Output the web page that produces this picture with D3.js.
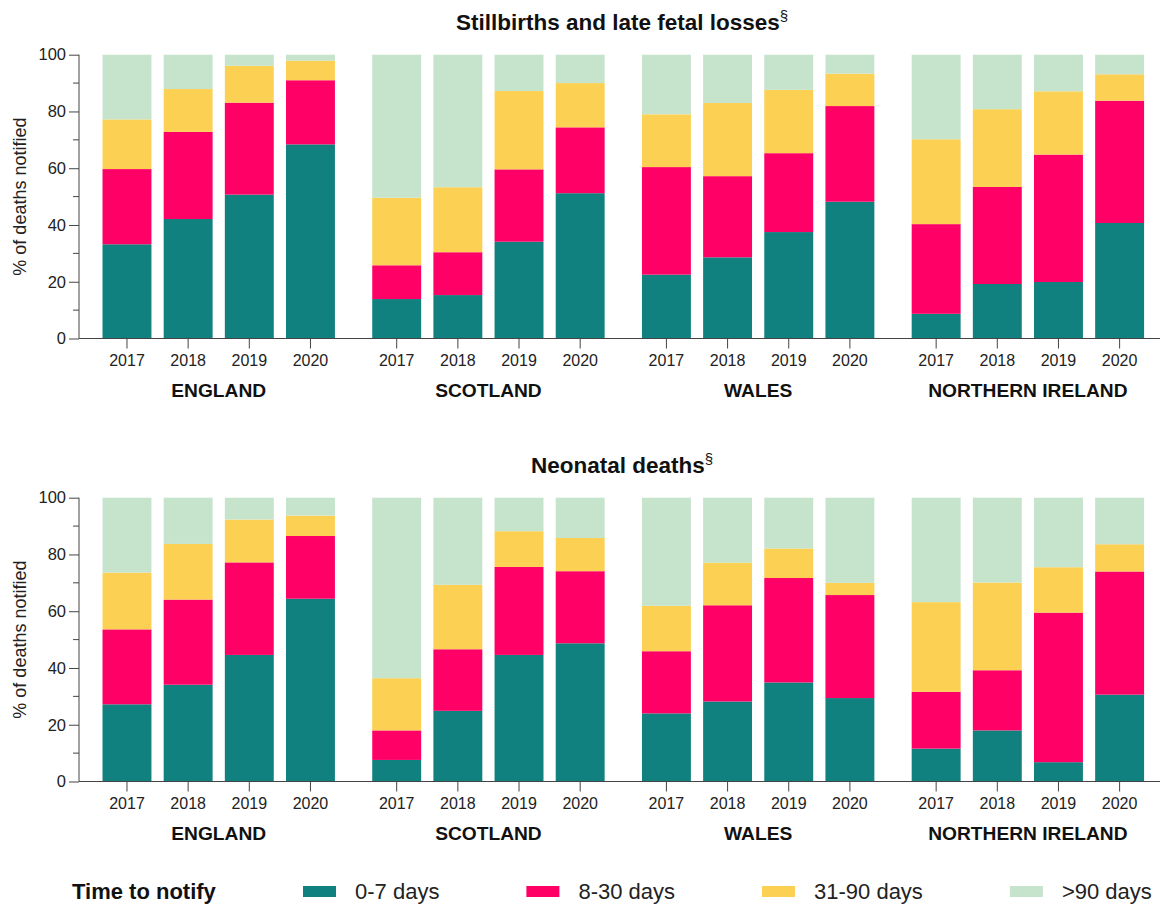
<!DOCTYPE html>
<html>
<head>
<meta charset="utf-8">
<script src="https://cdn.jsdelivr.net/npm/d3@7"></script>
<style>
  body { margin: 0; background: #fff; }
  svg { display: block; font-family: "Liberation Sans", Arial, Helvetica, sans-serif; }
</style>
</head>
<body>
<svg id="chart" width="1165" height="905"></svg>
<script>
// ---- Data ----
const countries = ["ENGLAND", "SCOTLAND", "WALES", "NORTHERN IRELAND"];
const years = ["2017", "2018", "2019", "2020"];
const seriesNames = ["0-7 days", "8-30 days", "31-90 days", ">90 days"];
const seriesColors = ["#10817e", "#ff0066", "#fcd153", "#c6e3cc"];
const yTicks = [0, 20, 40, 60, 80, 100];
const panelTitles = ["Stillbirths and late fetal losses", "Neonatal deaths"];
const legendTitle = "Time to notify";
const yAxisLabel = "% of deaths notified";

// Stillbirths and late fetal losses (order: England 2017-2020, Scotland, Wales, Northern Ireland)
const still_0_7   = [33.2, 42.1, 50.7, 68.4,  13.9, 15.3, 34.1, 51.2,  22.5, 28.6, 37.5, 48.2,   8.7, 19.2, 19.9, 40.7];
const still_8_30  = [26.5, 30.7, 32.4, 22.6,  11.9, 15.1, 25.5, 23.2,  37.9, 28.6, 27.8, 33.7,  31.6, 34.2, 44.9, 43.1];
const still_31_90 = [17.5, 15.1, 13.0,  6.9,  23.8, 22.9, 27.6, 15.6,  18.6, 25.8, 22.3, 11.4,  29.9, 27.4, 22.3,  9.3];
const still_90    = [22.8, 12.1,  3.9,  2.1,  50.4, 46.7, 12.8, 10.0,  21.0, 17.0, 12.4,  6.7,  29.8, 19.2, 12.9,  6.9];

// Neonatal deaths
const neo_0_7   = [27.2, 34.1, 44.6, 64.4,   7.6, 24.9, 44.6, 48.7,  24.0, 28.2, 34.9, 29.4,  11.6, 18.0,  6.8, 30.6];
const neo_8_30  = [26.4, 30.0, 32.6, 22.1,  10.4, 21.7, 31.0, 25.4,  21.9, 33.9, 36.8, 36.3,  20.0, 21.2, 52.7, 43.4];
const neo_31_90 = [20.0, 19.6, 15.1,  7.2,  18.4, 22.7, 12.6, 11.7,  16.0, 15.0, 10.4,  4.3,  31.6, 30.9, 16.0,  9.6];
const neo_90    = [26.4, 16.3,  7.7,  6.3,  63.6, 30.7, 11.8, 14.2,  38.1, 22.9, 17.9, 30.0,  36.8, 29.9, 24.5, 16.4];

// ---- Build rows ----
function buildRows(s0, s1, s2, s3) {
  const rows = [];
  countries.forEach((c, ci) => {
    years.forEach((y, yi) => {
      const i = ci * years.length + yi;
      rows.push({ country: c, year: y, [seriesNames[0]]: s0[i], [seriesNames[1]]: s1[i], [seriesNames[2]]: s2[i], [seriesNames[3]]: s3[i] });
    });
  });
  return rows;
}
const panels = [
  { title: panelTitles[0], rows: buildRows(still_0_7, still_8_30, still_31_90, still_90), top: 0 },
  { title: panelTitles[1], rows: buildRows(neo_0_7, neo_8_30, neo_31_90, neo_90), top: 443 }
];

const svg = d3.select("#chart");
const color = d3.scaleOrdinal().domain(seriesNames).range(seriesColors);

const x0 = d3.scaleBand().domain(countries).range([96.4, 1150.2]).paddingInner(0.093).paddingOuter(0);
const x1 = d3.scaleBand().domain(years).range([0, x0.bandwidth()]).paddingInner(0.2).paddingOuter(0.1);
const axisColor = "#444";
const axisLeftX = 79;

panels.forEach(p => {
  const g = svg.append("g").attr("transform", `translate(0,${p.top})`);
  const y = d3.scaleLinear().domain([0, 100]).range([338.5, 54.7]);

  // title
  const t = g.append("text")
    .attr("x", 622).attr("y", 30)
    .attr("text-anchor", "middle")
    .attr("font-size", 22.5).attr("font-weight", "bold").attr("fill", "#111");
  t.append("tspan").text(p.title);
  t.append("tspan").text("§").attr("font-size", 15).attr("font-weight", "normal").attr("dy", -9);

  // bars
  const stacked = d3.stack().keys(seriesNames)(p.rows);
  g.append("g").selectAll("g").data(stacked).join("g")
    .attr("fill", d => color(d.key))
    .selectAll("rect").data(d => d).join("rect")
    .attr("x", d => x0(d.data.country) + x1(d.data.year))
    .attr("width", x1.bandwidth())
    .attr("y", d => y(d[1]))
    .attr("height", d => y(d[0]) - y(d[1]));

  // y axis
  const yAxis = g.append("g").attr("transform", `translate(${axisLeftX},0)`)
    .call(d3.axisLeft(y).tickValues(yTicks).tickSize(10).tickPadding(3).tickFormat(d3.format("d")));
  yAxis.select(".domain").attr("stroke", axisColor).attr("d", `M0,${y(100)}V${y(0)}`);
  yAxis.selectAll(".tick line").attr("stroke", axisColor);
  yAxis.selectAll(".tick text").attr("font-size", 16.5).attr("fill", "#222").attr("font-family", "Liberation Sans, Arial, sans-serif");
  // minor ticks
  const minor = d3.range(10, 100, 20);
  g.append("g").selectAll("line").data(minor).join("line")
    .attr("x1", axisLeftX - 6).attr("x2", axisLeftX)
    .attr("y1", d => y(d)).attr("y2", d => y(d))
    .attr("stroke", axisColor);

  // y axis label
  g.append("text")
    .attr("transform", `translate(20,${(y(0) + y(100)) / 2}) rotate(-90)`)
    .attr("text-anchor", "middle").attr("dominant-baseline", "central")
    .attr("font-size", 18).attr("fill", "#222")
    .text(yAxisLabel);

  // x axis line
  g.append("line")
    .attr("x1", axisLeftX).attr("x2", 1160)
    .attr("y1", y(0)).attr("y2", y(0))
    .attr("stroke", axisColor).attr("stroke-width", 1.2);

  // x ticks & year labels
  countries.forEach(c => {
    const cg = g.append("g").attr("transform", `translate(${x0(c)},${y(0)})`);
    const xa = cg.call(d3.axisBottom(x1).tickSize(10).tickPadding(6));
    xa.select(".domain").remove();
    xa.selectAll(".tick line").attr("stroke", axisColor);
    xa.selectAll(".tick text").attr("font-size", 16).attr("fill", "#222").attr("font-family", "Liberation Sans, Arial, sans-serif");
    g.append("text")
      .attr("x", x0(c) + x0.bandwidth() / 2).attr("y", 397)
      .attr("text-anchor", "middle")
      .attr("font-size", 19.2).attr("font-weight", "bold").attr("fill", "#111")
      .text(c);
  });
});

// ---- Legend ----
const lg = svg.append("g");
lg.append("text").attr("x", 72).attr("y", 899)
  .attr("font-size", 22).attr("font-weight", "bold").attr("fill", "#111")
  .text(legendTitle);
let lx = 303;
seriesNames.forEach(s => {
  lg.append("rect").attr("x", lx).attr("y", 886).attr("width", 33).attr("height", 11).attr("fill", color(s));
  const tx = lg.append("text").attr("x", lx + 52).attr("y", 899)
    .attr("font-size", 22).attr("fill", "#222").text(s);
  lx = lx + 52 + tx.node().getComputedTextLength() + 87;
});
</script>
</body>
</html>
